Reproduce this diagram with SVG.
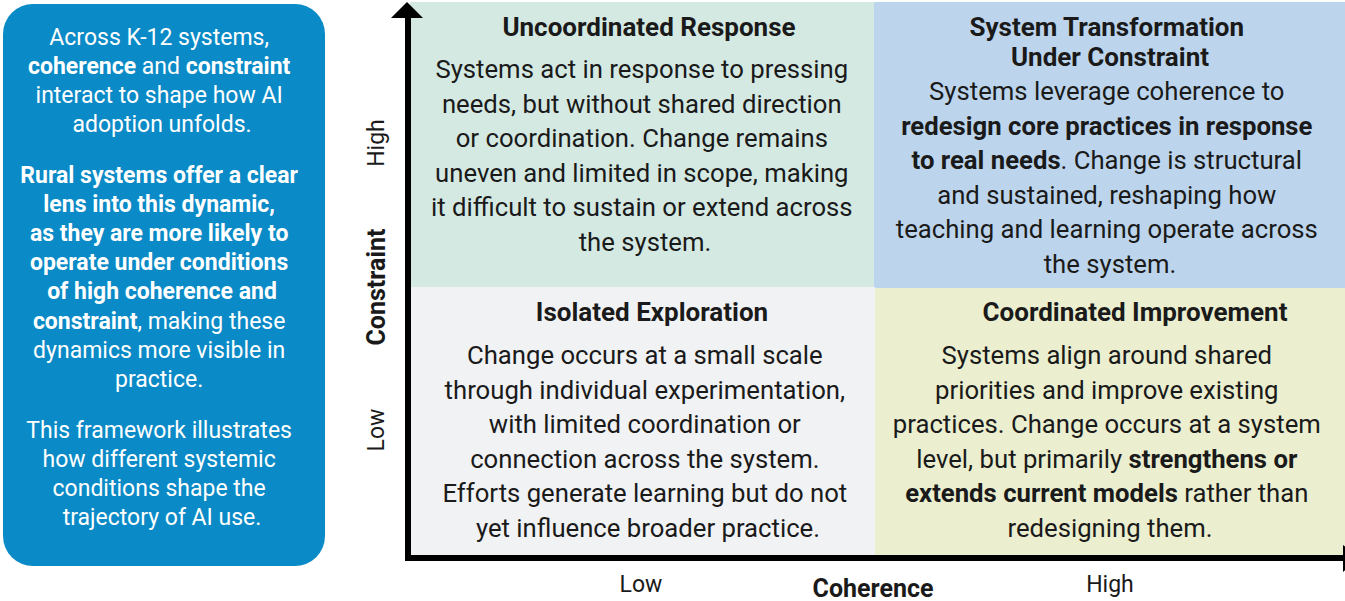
<svg xmlns="http://www.w3.org/2000/svg" width="1345" height="601" viewBox="0 0 1345 601">
  <style>
    text { font-family: Roboto, "Liberation Sans", sans-serif; }
    .side { fill: #ffffff; font-size: 23px; text-anchor: middle; }
    .body { fill: #1a1a1a; font-size: 25.7px; text-anchor: middle; }
    .title { fill: #1a1a1a; font-size: 26px; font-weight: 700; text-anchor: middle; }
    .axis { fill: #1a1a1a; font-size: 23px; text-anchor: middle; }
    .axis-title { fill: #1a1a1a; font-size: 25px; font-weight: 700; text-anchor: middle; }
    .b { font-weight: 700; }
  </style>

  <!-- Intro panel -->
  <g id="intro">
    <rect x="3" y="4" width="322" height="562" rx="30" ry="30" fill="#0a8ac6"/>
    <text class="side">
      <tspan x="162" y="45">Across K-12 systems,</tspan>
      <tspan x="162" y="74"><tspan class="b">coherence</tspan> and <tspan class="b">constraint</tspan></tspan>
      <tspan x="162" y="103">interact to shape how AI</tspan>
      <tspan x="162" y="132">adoption unfolds.</tspan>
    </text>
    <text class="side b">
      <tspan x="162" y="183">Rural systems offer a clear</tspan>
      <tspan x="162" y="212">lens into this dynamic,</tspan>
      <tspan x="162" y="241">as they are more likely to</tspan>
      <tspan x="162" y="270">operate under conditions</tspan>
      <tspan x="162" y="299">of high coherence and</tspan>
    </text>
    <text class="side">
      <tspan x="162" y="329"><tspan class="b">constraint</tspan>, making these</tspan>
      <tspan x="162" y="358">dynamics more visible in</tspan>
      <tspan x="162" y="387">practice.</tspan>
      <tspan x="162" y="438">This framework illustrates</tspan>
      <tspan x="162" y="467">how different systemic</tspan>
      <tspan x="162" y="496">conditions shape the</tspan>
      <tspan x="162" y="525">trajectory of AI use.</tspan>
    </text>
  </g>

  <!-- Quadrant: high constraint, low coherence -->
  <g id="uncoordinated-response">
    <rect x="410" y="2" width="464" height="285" fill="#d5e9e3"/>
    <text class="title" x="649" y="36">Uncoordinated Response</text>
    <text class="body">
      <tspan x="645" y="78">Systems act in response to pressing</tspan>
      <tspan x="645" y="112.5">needs, but without shared direction</tspan>
      <tspan x="645" y="147">or coordination. Change remains</tspan>
      <tspan x="645" y="181.5">uneven and limited in scope, making</tspan>
      <tspan x="645" y="216">it difficult to sustain or extend across</tspan>
      <tspan x="645" y="250.5">the system.</tspan>
    </text>
  </g>

  <!-- Quadrant: high constraint, high coherence -->
  <g id="system-transformation">
    <rect x="874" y="2" width="471" height="286" fill="#bdd5ec"/>
    <text class="title">
      <tspan x="1110" y="36">System Transformation</tspan>
      <tspan x="1110" y="66">Under Constraint</tspan>
    </text>
    <text class="body">
      <tspan x="1110" y="100">Systems leverage coherence to</tspan>
      <tspan x="1110" y="134.5" class="b">redesign core practices in response</tspan>
      <tspan x="1110" y="169"><tspan class="b">to real needs</tspan>. Change is structural</tspan>
      <tspan x="1110" y="203.5">and sustained, reshaping how</tspan>
      <tspan x="1110" y="238">teaching and learning operate across</tspan>
      <tspan x="1110" y="272.5">the system.</tspan>
    </text>
  </g>

  <!-- Quadrant: low constraint, low coherence -->
  <g id="isolated-exploration">
    <rect x="410" y="287" width="465" height="269" fill="#f1f2f4"/>
    <text class="title" x="652" y="321">Isolated Exploration</text>
    <text class="body">
      <tspan x="648" y="364">Change occurs at a small scale</tspan>
      <tspan x="648" y="398.5">through individual experimentation,</tspan>
      <tspan x="648" y="433">with limited coordination or</tspan>
      <tspan x="648" y="467.5">connection across the system.</tspan>
      <tspan x="648" y="502">Efforts generate learning but do not</tspan>
      <tspan x="648" y="536.5">yet influence broader practice.</tspan>
    </text>
  </g>

  <!-- Quadrant: low constraint, high coherence -->
  <g id="coordinated-improvement">
    <rect x="875" y="288" width="470" height="268" fill="#ebefd0"/>
    <text class="title" x="1135" y="321">Coordinated Improvement</text>
    <text class="body">
      <tspan x="1110" y="364">Systems align around shared</tspan>
      <tspan x="1110" y="398.5">priorities and improve existing</tspan>
      <tspan x="1110" y="433">practices. Change occurs at a system</tspan>
      <tspan x="1110" y="467.5">level, but primarily <tspan class="b">strengthens or</tspan></tspan>
      <tspan x="1110" y="502"><tspan class="b">extends current models</tspan> rather than</tspan>
      <tspan x="1110" y="536.5">redesigning them.</tspan>
    </text>
  </g>

  <!-- Axes -->
  <g id="axes" fill="#000000">
    <rect x="405" y="16" width="6" height="545"/>
    <polygon points="391,18 407,2 423,18"/>
    <rect x="405" y="555" width="940" height="6"/>
    <polygon points="1343,545 1343,572 1360,558"/>
  </g>

  <!-- Axis labels -->
  <g id="axis-labels">
    <text class="axis" transform="translate(384 143) rotate(-90)">High</text>
    <text class="axis-title" transform="translate(385 287) rotate(-90)">Constraint</text>
    <text class="axis" transform="translate(384 430) rotate(-90)">Low</text>
    <text class="axis" x="641" y="592">Low</text>
    <text class="axis-title" x="873" y="597">Coherence</text>
    <text class="axis" x="1110" y="592">High</text>
  </g>
</svg>
